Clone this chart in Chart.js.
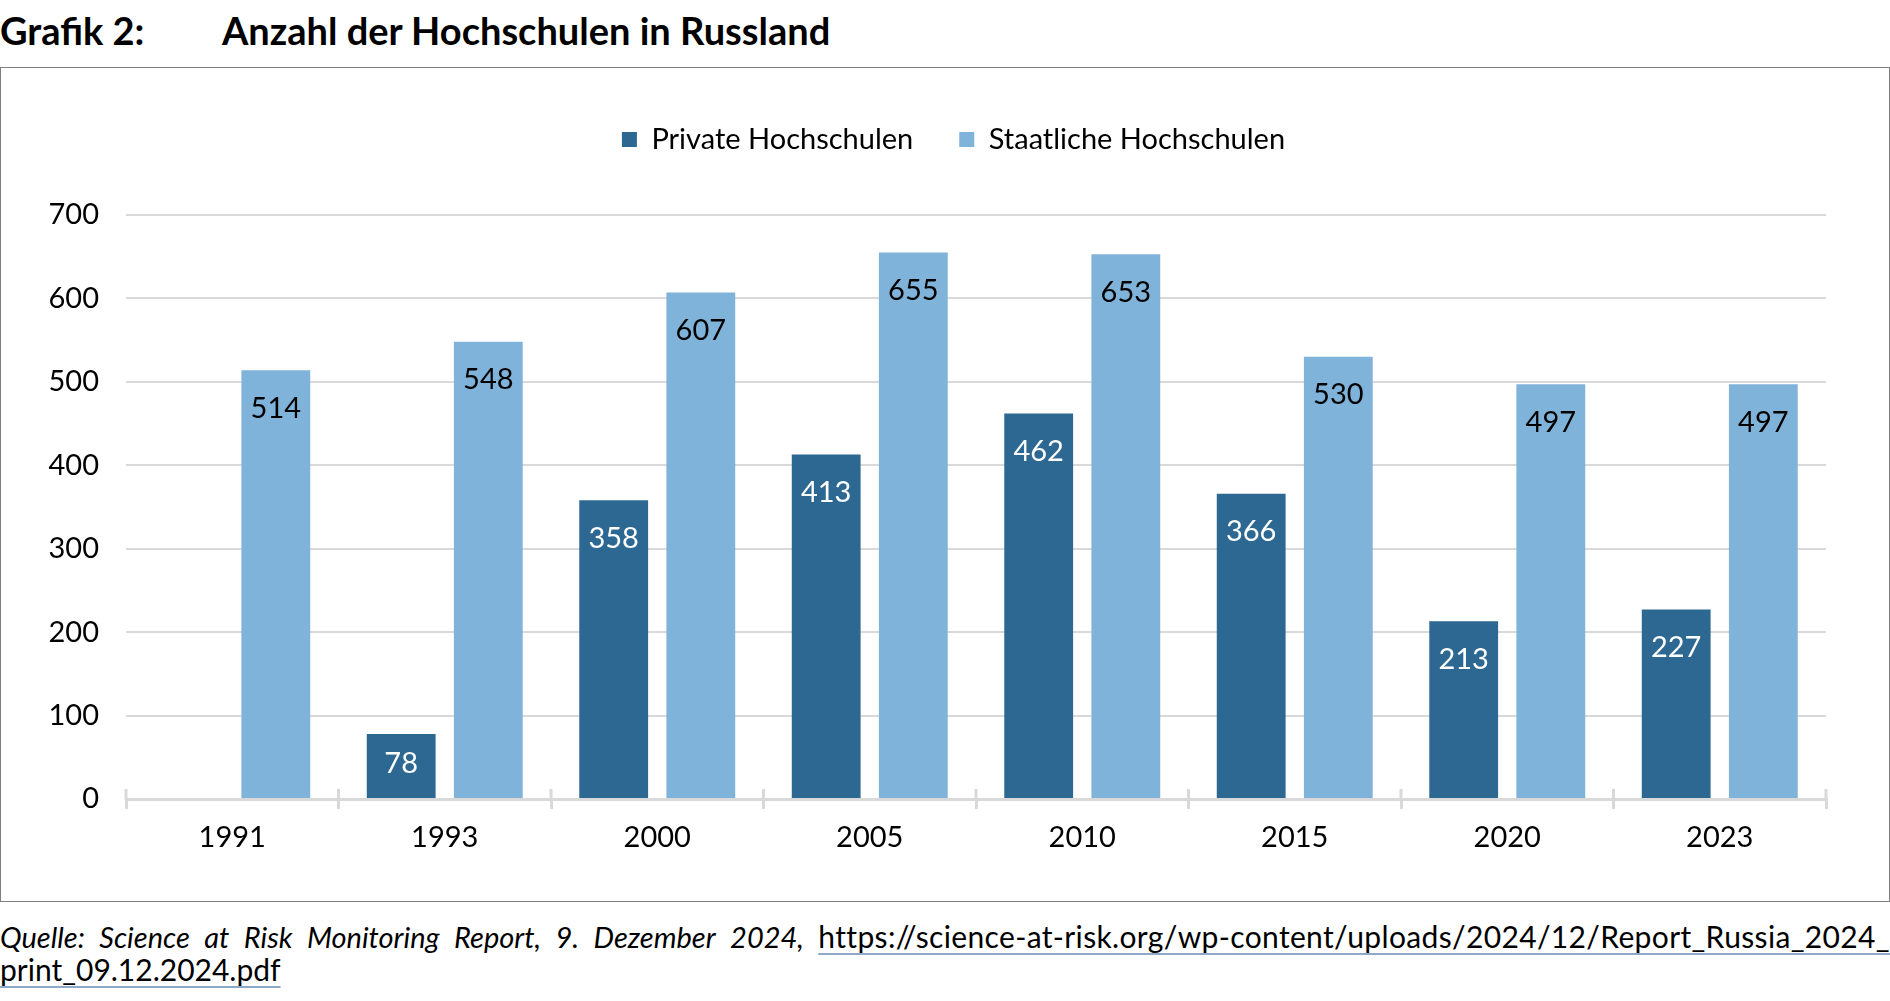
<!DOCTYPE html>
<html><head><meta charset="utf-8">
<script src="https://cdn.jsdelivr.net/npm/chart.js@4.4.1/dist/chart.umd.min.js"></script>
<style>
html,body{margin:0;padding:0;background:#fff;width:1890px;height:1001px;overflow:hidden;font-family:Lato,sans-serif;color:#000;}
#title{position:absolute;left:0;top:9px;height:42px;line-height:42px;font-weight:bold;font-size:38px;white-space:nowrap;width:1000px;}
#title span{position:absolute;top:0;}
#frame{position:absolute;left:0;top:67px;width:1890px;height:835px;box-sizing:border-box;border:1.5px solid #7f7f7f;}
#wrap{position:absolute;left:0;top:0;width:1887px;height:832px;}
#foot{position:absolute;left:0;top:920px;width:1890px;font-size:30px;line-height:33px;}
#l1,#l2{height:33px;white-space:nowrap;}
.lnk{color:#000;text-decoration:underline;text-decoration-color:#8ea9c8;text-underline-offset:5px;text-decoration-thickness:1.5px;}
#l1 .lnk{letter-spacing:0.35px;}
i{font-style:italic;font-size:29px;}
</style>
</head><body>
<div id="title"><span style="left:0">Grafik 2:</span><span style="left:222px">Anzahl der Hochschulen in Russland</span></div>
<div id="frame"><div id="wrap"><canvas id="c"></canvas></div></div>
<div id="foot">
<div id="l1" style="display:flex;justify-content:space-between;align-items:baseline;"><i>Quelle:</i> <i>Science</i> <i>at</i> <i>Risk</i> <i>Monitoring</i> <i>Report,</i> <i>9.</i> <i>Dezember</i> <i>2024,</i> <span class="lnk">https://science-at-risk.org/wp-content/uploads/2024/12/Report_Russia_2024_</span></div>
<div id="l2"><span class="lnk">print_09.12.2024.pdf</span></div>
</div>
<script>
const categories = ['1991','1993','2000','2005','2010','2015','2020','2023'];
const privateHS = [null, 78, 358, 413, 462, 366, 213, 227];
const staatlicheHS = [514, 548, 607, 655, 653, 530, 497, 497];
const yTicks = [0,100,200,300,400,500,600,700];

Chart.defaults.font.family = 'Lato';
Chart.defaults.color = '#000';

const labelPlugin = {
  id:'barLabels',
  afterDatasetsDraw(chart){
    const ctx = chart.ctx;
    ctx.save();
    ctx.font = '29px Lato';
    ctx.textAlign = 'center';
    ctx.textBaseline = 'middle';
    chart.data.datasets.forEach((ds,i)=>{
      const meta = chart.getDatasetMeta(i);
      meta.data.forEach((bar,j)=>{
        const v = ds.data[j];
        if (v == null) return;
        const h = bar.base - bar.y;
        ctx.fillStyle = i===0 ? '#fff' : '#000';
        ctx.fillText(String(v), bar.x, bar.y + Math.min(38, h/2 - 2));
      });
    });
    ctx.restore();
  }
};
const tickPlugin = {
  id:'upperTicks',
  afterDraw(chart){
    const xs = chart.scales.x;
    const ctx = chart.ctx;
    const n = categories.length;
    const w = xs.getPixelForValue(1) - xs.getPixelForValue(0);
    const x0 = xs.getPixelForValue(0) - w/2;
    const y = chart.chartArea.bottom;
    ctx.save();
    ctx.strokeStyle = '#d9d9d9';
    ctx.lineWidth = 3;
    for (let i=0;i<=n;i++){
      const x = x0 + i*w;
      ctx.beginPath(); ctx.moveTo(x, y-10); ctx.lineTo(x, y+1); ctx.stroke();
    }
    ctx.restore();
  }
};
const legendPlugin = {
  id:'legendH',
  beforeInit(chart){
    const fit = chart.legend.fit;
    chart.legend.fit = function(){ fit.bind(chart.legend)(); this.height = 136; };
  },
  afterLayout(chart){
    chart.legend.left += 40;
    chart.legend.right += 40;
  }
};

new Chart(document.getElementById('c'), {
  type:'bar',
  data:{
    labels:categories,
    datasets:[
      {label:'Private Hochschulen', data:privateHS, backgroundColor:'#2d6892', categoryPercentage:0.82, barPercentage:0.79},
      {label:'Staatliche Hochschulen', data:staatlicheHS, backgroundColor:'#80b3da', categoryPercentage:0.82, barPercentage:0.79}
    ]
  },
  plugins:[labelPlugin, tickPlugin, legendPlugin],
  options:{
    responsive:true, maintainAspectRatio:false, animation:false,
    layout:{padding:{top:11,left:0,right:62,bottom:0}},
    plugins:{
      legend:{position:'top', labels:{font:{size:29}, boxWidth:15, boxHeight:15, padding:46, color:'#000'}},
      tooltip:{enabled:false}
    },
    scales:{
      x:{
        grid:{display:true, drawOnChartArea:false, offset:true, tickLength:10, color:'#d9d9d9', lineWidth:3},
        border:{display:true, color:'#d9d9d9', width:3},
        ticks:{font:{size:29}, padding:11, color:'#000'},
        afterFit(s){ s.height = 101; }
      },
      y:{
        min:0, max:700,
        afterBuildTicks(s){ s.ticks = yTicks.map(v=>({value:v})); },
        grid:{color:'#d9d9d9', lineWidth:2, drawTicks:false},
        border:{display:false},
        ticks:{font:{size:29}, padding:27, color:'#000'},
        afterFit(s){ s.width = 125; }
      }
    }
  }
});
</script>
</body></html>
